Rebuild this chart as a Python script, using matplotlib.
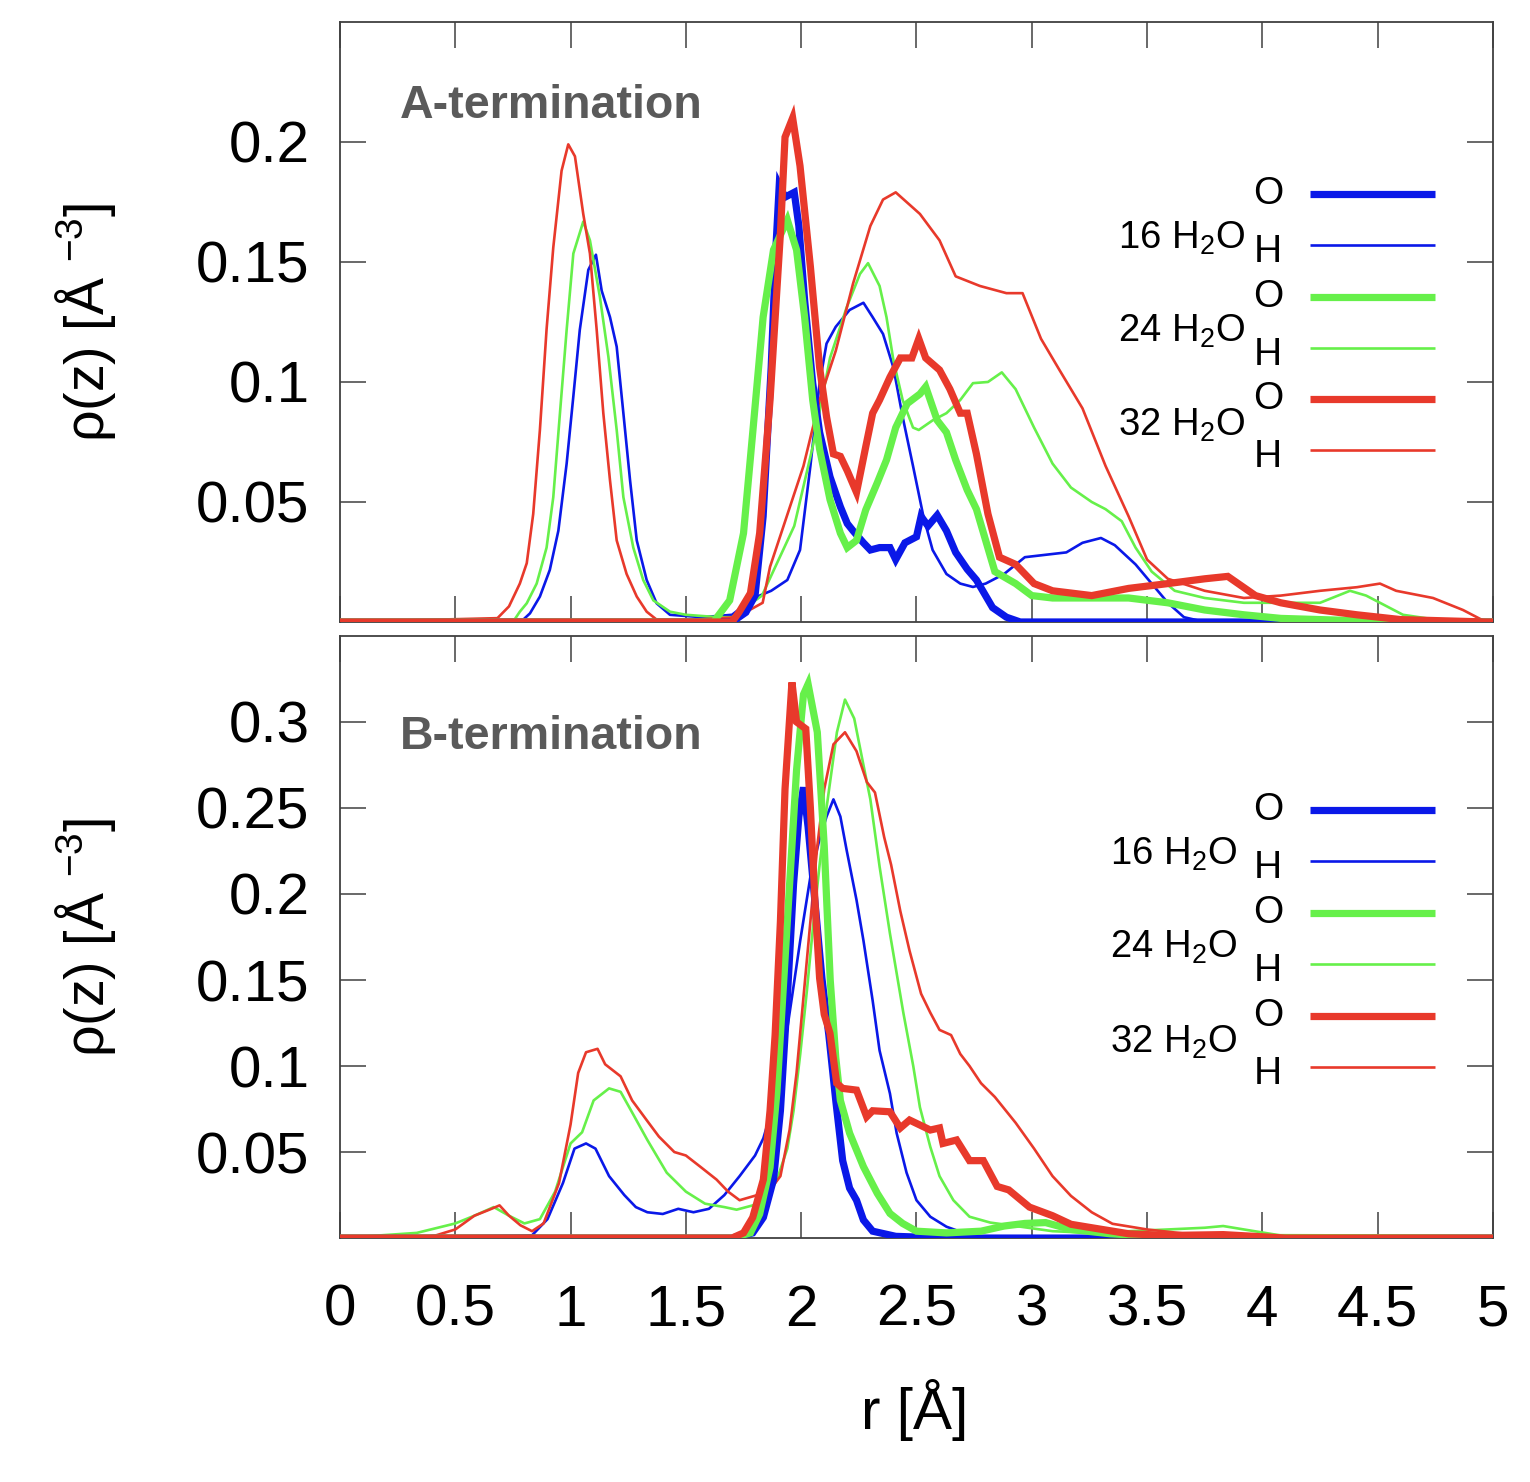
import matplotlib
matplotlib.use("Agg")
import matplotlib.pyplot as plt

plt.rcParams["font.family"] = ["Liberation Sans", "DejaVu Sans"]
plt.rcParams["mathtext.default"] = "regular"

# ---------------- A-termination (top) ----------------
a16_o_r = [0, 1.70, 1.76, 1.80, 1.835, 1.87, 1.89, 1.905, 1.93, 1.97, 1.99, 2.015, 2.05, 2.08, 2.125,
           2.17, 2.20, 2.225, 2.27, 2.30, 2.34, 2.385, 2.41, 2.45, 2.50, 2.52, 2.55, 2.59, 2.63, 2.67,
           2.72, 2.76, 2.83, 2.89, 2.95, 5.0]
a16_o = [0, 0, 0.004, 0.011, 0.044, 0.106, 0.155, 0.182, 0.177, 0.179, 0.165, 0.134, 0.0995, 0.079, 0.0605,
         0.048, 0.041, 0.038, 0.033, 0.030, 0.031, 0.031, 0.026, 0.033, 0.0355, 0.044, 0.040, 0.0445, 0.038, 0.029,
         0.022, 0.0175, 0.006, 0.002, 0, 0]

a16_h_r = [0, 0.795, 0.824, 0.867, 0.91, 0.947, 0.983, 1.012, 1.04, 1.077, 1.11, 1.135, 1.171, 1.2, 1.229,
           1.258, 1.287, 1.33, 1.373, 1.431, 1.57, 1.7, 1.795, 1.87, 1.94, 1.995, 2.04, 2.08, 2.11, 2.15,
           2.21, 2.27, 2.31, 2.355, 2.40, 2.44, 2.485, 2.53, 2.57, 2.63, 2.69, 2.745, 2.80, 2.88, 2.97,
           3.06, 3.15, 3.22, 3.30, 3.36, 3.45, 3.52, 3.59, 3.66, 3.75, 5.0]
a16_h = [0, 0.001, 0.0036, 0.0106, 0.0217, 0.038, 0.066, 0.094, 0.1217, 0.1467, 0.153, 0.138, 0.127, 0.1147, 0.087,
         0.059, 0.034, 0.0175, 0.0078, 0.003, 0.002, 0.003, 0.010, 0.013, 0.0175, 0.030, 0.065, 0.0995, 0.116, 0.123,
         0.130, 0.133, 0.127, 0.120, 0.106, 0.0855, 0.065, 0.044, 0.030, 0.020, 0.016, 0.0146, 0.016, 0.020, 0.027,
         0.028, 0.029, 0.033, 0.035, 0.032, 0.024, 0.016, 0.008, 0.002, 0, 0]

a24_o_r = [0, 1.62, 1.69, 1.75, 1.79, 1.835, 1.88, 1.94, 1.98, 2.015, 2.05, 2.08, 2.125, 2.17, 2.20, 2.24,
           2.28, 2.33, 2.37, 2.41, 2.46, 2.515, 2.54, 2.59, 2.63, 2.67, 2.72, 2.76, 2.80, 2.84, 2.93, 3.0,
           3.09, 3.26, 3.42, 3.59, 3.75, 3.92, 4.08, 4.25, 4.6, 5.0]
a24_o = [0, 0, 0.009, 0.037, 0.079, 0.127, 0.155, 0.1675, 0.155, 0.127, 0.0925, 0.072, 0.051, 0.037, 0.031, 0.034,
         0.0467, 0.058, 0.0675, 0.081, 0.091, 0.095, 0.098, 0.084, 0.079, 0.0675, 0.055, 0.047, 0.034, 0.021, 0.016, 0.011,
         0.010, 0.010, 0.010, 0.008, 0.005, 0.003, 0.0015, 0.001, 0, 0]

a24_h_r = [0, 0.75, 0.78, 0.81, 0.853, 0.896, 0.925, 0.954, 0.983, 1.012, 1.055, 1.084, 1.127, 1.164, 1.2,
           1.229, 1.272, 1.315, 1.359, 1.431, 1.5, 1.64, 1.70, 1.83, 1.97, 2.05, 2.125, 2.197, 2.255, 2.29,
           2.34, 2.37, 2.40, 2.44, 2.485, 2.51, 2.57, 2.63, 2.69, 2.745, 2.81, 2.87, 2.93, 3.01, 3.09, 3.17,
           3.26, 3.32, 3.39, 3.45, 3.52, 3.62, 3.75, 3.92, 4.08, 4.25, 4.38, 4.45, 4.51, 4.61, 4.75, 5.0]
a24_h = [0, 0, 0.0043, 0.0078, 0.016, 0.031, 0.052, 0.087, 0.1217, 0.1535, 0.1668, 0.159, 0.1355, 0.1105, 0.08,
         0.052, 0.031, 0.0175, 0.009, 0.0043, 0.003, 0.002, 0.002, 0.011, 0.040, 0.073, 0.110, 0.131, 0.145, 0.1495,
         0.14, 0.127, 0.109, 0.0925, 0.081, 0.080, 0.084, 0.087, 0.0925, 0.0995, 0.100, 0.104, 0.097, 0.081, 0.066, 0.056,
         0.050, 0.047, 0.042, 0.031, 0.021, 0.013, 0.010, 0.008, 0.008, 0.008, 0.013, 0.011, 0.008, 0.003, 0.001, 0]

a32_o_r = [0, 1.70, 1.73, 1.78, 1.82, 1.865, 1.91, 1.93, 1.963, 1.995, 2.04, 2.08, 2.11, 2.14, 2.17, 2.20,
           2.24, 2.28, 2.31, 2.34, 2.385, 2.43, 2.48, 2.51, 2.54, 2.60, 2.645, 2.69, 2.72, 2.76, 2.81, 2.86,
           2.93, 3.01, 3.09, 3.26, 3.42, 3.59, 3.75, 3.85, 3.97, 4.08, 4.25, 4.41, 4.6, 4.97, 5.0]
a32_o = [0, 0, 0.004, 0.012, 0.037, 0.0925, 0.162, 0.202, 0.21, 0.19, 0.148, 0.106, 0.0855, 0.07, 0.069, 0.063,
         0.054, 0.073, 0.087, 0.0925, 0.102, 0.11, 0.11, 0.118, 0.11, 0.105, 0.097, 0.087, 0.087, 0.070, 0.045, 0.027,
         0.024, 0.016, 0.013, 0.011, 0.014, 0.016, 0.018, 0.019, 0.011, 0.008, 0.005, 0.003, 0.001, 0, 0]

a32_h_r = [0, 0.683, 0.733, 0.78, 0.81, 0.838, 0.867, 0.896, 0.925, 0.961, 0.99, 1.019, 1.055, 1.084, 1.113,
           1.142, 1.171, 1.2, 1.243, 1.287, 1.33, 1.373, 1.55, 1.72, 1.833, 1.865, 2.01, 2.08, 2.15, 2.225,
           2.30, 2.355, 2.41, 2.515, 2.60, 2.67, 2.775, 2.89, 2.96, 3.04, 3.12, 3.22, 3.32, 3.42, 3.50, 3.59,
           3.75, 3.92, 4.08, 4.25, 4.41, 4.51, 4.58, 4.74, 4.87, 4.97, 5.0]
a32_h = [0, 0.0016, 0.0065, 0.016, 0.0245, 0.045, 0.08, 0.122, 0.156, 0.188, 0.199, 0.194, 0.17, 0.1535, 0.122,
         0.087, 0.059, 0.034, 0.02, 0.0106, 0.0043, 0.001, 0.001, 0.002, 0.008, 0.023, 0.065, 0.0925, 0.113, 0.141,
         0.165, 0.176, 0.179, 0.17, 0.159, 0.144, 0.14, 0.137, 0.137, 0.118, 0.105, 0.089, 0.065, 0.044, 0.026, 0.018,
         0.013, 0.010, 0.011, 0.013, 0.0145, 0.016, 0.013, 0.010, 0.005, 0, 0]

# ---------------- B-termination (bottom) ----------------
b16_o_r = [0, 1.70, 1.79, 1.836, 1.88, 1.91, 1.94, 1.967, 1.99, 2.01, 2.03, 2.06, 2.09, 2.12, 2.15, 2.18,
           2.21, 2.24, 2.27, 2.31, 2.41, 2.52, 2.65, 2.8, 5.0]
b16_o = [0, 0, 0.003, 0.012, 0.034, 0.074, 0.14, 0.206, 0.245, 0.262, 0.239, 0.195, 0.151, 0.118, 0.08, 0.045,
         0.029, 0.022, 0.0105, 0.004, 0.001, 0.0005, 0, 0, 0]

b16_h_r = [0, 0.833, 0.9, 0.967, 1.017, 1.067, 1.108, 1.167, 1.233, 1.283, 1.333, 1.4, 1.467, 1.533, 1.6,
           1.667, 1.733, 1.8, 1.836, 1.88, 1.92, 1.96, 1.996, 2.04, 2.08, 2.11, 2.14, 2.17, 2.197, 2.24,
           2.27, 2.31, 2.34, 2.385, 2.414, 2.457, 2.5, 2.56, 2.63, 2.69, 2.78, 2.9, 5.0]
b16_h = [0, 0.0016, 0.011, 0.032, 0.052, 0.055, 0.052, 0.036, 0.025, 0.018, 0.015, 0.014, 0.017, 0.015, 0.017,
         0.025, 0.036, 0.048, 0.058, 0.078, 0.104, 0.14, 0.173, 0.21, 0.232, 0.245, 0.255, 0.245, 0.2256, 0.1965,
         0.173, 0.138, 0.109, 0.084, 0.061, 0.038, 0.022, 0.0124, 0.0066, 0.0037, 0.001, 0, 0]

b24_o_r = [0, 1.70, 1.78, 1.82, 1.865, 1.895, 1.92, 1.95, 1.98, 2.01, 2.03, 2.07, 2.10, 2.126, 2.15, 2.17,
           2.21, 2.27, 2.33, 2.385, 2.44, 2.50, 2.63, 2.78, 2.88, 2.97, 3.06, 3.17, 3.34, 3.6, 5.0]
b24_o = [0, 0, 0.003, 0.014, 0.041, 0.085, 0.14, 0.206, 0.272, 0.316, 0.322, 0.294, 0.228, 0.15, 0.105, 0.08,
         0.061, 0.0415, 0.026, 0.0143, 0.0085, 0.004, 0.003, 0.004, 0.007, 0.0085, 0.009, 0.005, 0.0025, 0.0005, 0]

b24_h_r = [0, 0.333, 0.5, 0.583, 0.667, 0.733, 0.8, 0.867, 0.933, 1.0, 1.05, 1.1, 1.167, 1.217, 1.267, 1.333,
           1.417, 1.5, 1.583, 1.667, 1.72, 1.79, 1.85, 1.895, 1.94, 1.967, 1.996, 2.025, 2.05, 2.08, 2.11,
           2.155, 2.19, 2.23, 2.27, 2.30, 2.34, 2.385, 2.414, 2.443, 2.486, 2.515, 2.56, 2.60, 2.66, 2.73,
           2.82, 2.93, 3.09, 3.26, 3.42, 3.59, 3.75, 3.83, 3.92, 4.08, 4.25, 5.0]
b24_h = [0, 0.003, 0.0085, 0.013, 0.018, 0.013, 0.0085, 0.011, 0.027, 0.055, 0.0615, 0.08, 0.087, 0.085, 0.073, 0.057,
         0.038, 0.027, 0.020, 0.018, 0.0165, 0.019, 0.023, 0.034, 0.052, 0.074, 0.107, 0.144, 0.179, 0.217, 0.25,
         0.294, 0.313, 0.302, 0.275, 0.255, 0.216, 0.177, 0.154, 0.131, 0.10, 0.076, 0.053, 0.036, 0.022, 0.0124,
         0.009, 0.007, 0.004, 0.003, 0.004, 0.005, 0.006, 0.007, 0.005, 0.0015, 0, 0]

b32_o_r = [0, 1.70, 1.75, 1.79, 1.836, 1.865, 1.887, 1.91, 1.93, 1.96, 1.98, 2.02, 2.04, 2.06, 2.08, 2.10,
           2.125, 2.154, 2.18, 2.24, 2.284, 2.31, 2.385, 2.43, 2.47, 2.56, 2.60, 2.615, 2.674, 2.73, 2.79,
           2.85, 2.90, 2.99, 3.09, 3.17, 3.26, 3.42, 3.59, 3.83, 4.1, 5.0]
b32_o = [0, 0, 0.003, 0.012, 0.034, 0.074, 0.118, 0.184, 0.261, 0.323, 0.30, 0.296, 0.25, 0.195, 0.151, 0.13,
         0.119, 0.09, 0.087, 0.086, 0.0705, 0.074, 0.0734, 0.064, 0.0686, 0.0628, 0.064, 0.055, 0.057, 0.045, 0.045,
         0.030, 0.028, 0.018, 0.013, 0.008, 0.006, 0.0025, 0.0015, 0.002, 0, 0]

b32_h_r = [0, 0.333, 0.417, 0.5, 0.583, 0.65, 0.692, 0.733, 0.783, 0.833, 0.883, 0.95, 1.0, 1.033, 1.067,
           1.117, 1.15, 1.217, 1.267, 1.333, 1.383, 1.45, 1.5, 1.567, 1.633, 1.683, 1.733, 1.81, 1.865, 1.91,
           1.95, 1.98, 2.01, 2.04, 2.07, 2.10, 2.14, 2.19, 2.24, 2.285, 2.32, 2.36, 2.39, 2.43, 2.47, 2.52,
           2.56, 2.60, 2.65, 2.69, 2.73, 2.78, 2.84, 2.93, 3.01, 3.09, 3.17, 3.26, 3.35, 3.5, 3.67, 3.9, 5.0]
b32_h = [0, 0, 0.0016, 0.005, 0.013, 0.0166, 0.019, 0.013, 0.0074, 0.004, 0.0085, 0.032, 0.066, 0.096, 0.108,
         0.11, 0.101, 0.094, 0.08, 0.068, 0.059, 0.05, 0.048, 0.041, 0.034, 0.027, 0.022, 0.025, 0.028, 0.036,
         0.063, 0.096, 0.14, 0.184, 0.228, 0.261, 0.287, 0.294, 0.283, 0.265, 0.259, 0.233, 0.217, 0.19, 0.167, 0.142,
         0.131, 0.121, 0.118, 0.107, 0.10, 0.09, 0.082, 0.067, 0.052, 0.036, 0.0245, 0.015, 0.0083, 0.005, 0.0025, 0, 0]

x_ticks = [0, 0.5, 1, 1.5, 2, 2.5, 3, 3.5, 4, 4.5, 5]
x_tick_labels = ["0", "0.5", "1", "1.5", "2", "2.5", "3", "3.5", "4", "4.5", "5"]
a_y_ticks = [0.05, 0.1, 0.15, 0.2]
a_y_labels = ["0.05", "0.1", "0.15", "0.2"]
b_y_ticks = [0.05, 0.1, 0.15, 0.2, 0.25, 0.3]
b_y_labels = ["0.05", "0.1", "0.15", "0.2", "0.25", "0.3"]
groups = ["16 H$_2$O", "24 H$_2$O", "32 H$_2$O"]

BLUE = "#0a18e8"
GREEN = "#66f04a"
RED = "#e8392b"
colors = [BLUE, GREEN, RED]
EDGE = "#404040"

fig = plt.figure(figsize=(15.3, 14.82), dpi=100)
ax_a = fig.add_axes([0.2222, 0.5803, 0.7536, 0.4049])
ax_b = fig.add_axes([0.2222, 0.1646, 0.7536, 0.4063])

panel_a = [(a16_o_r, a16_o, a16_h_r, a16_h), (a24_o_r, a24_o, a24_h_r, a24_h), (a32_o_r, a32_o, a32_h_r, a32_h)]
panel_b = [(b16_o_r, b16_o, b16_h_r, b16_h), (b24_o_r, b24_o, b24_h_r, b24_h), (b32_o_r, b32_o, b32_h_r, b32_h)]


def draw_panel(ax, data, ylim, yticks, ylabels, title, title_y, rows_y, group_y, group_x):
    for (o_r, o_v, h_r, h_v), c in zip(data, colors):
        ax.plot(h_r, h_v, color=c, lw=1.9, zorder=2)
    for (o_r, o_v, h_r, h_v), c in zip(data, colors):
        ax.plot(o_r, o_v, color=c, lw=5.2, zorder=3, solid_joinstyle="miter")

    ax.set_xlim(0, 5)
    ax.set_ylim(*ylim)
    ax.set_xticks(x_ticks)
    ax.set_yticks(yticks)
    ax.set_yticklabels(ylabels)
    ax.tick_params(direction="in", length=19, width=1.1, color=EDGE, top=True, right=True,
                   labelsize=42, pad=22)
    for s in ax.spines.values():
        s.set_color(EDGE)
        s.set_linewidth(1.3)

    ax.text(0.052, title_y, title, transform=ax.transAxes, fontsize=33.5, fontweight="bold",
            color="#5a5a5a", ha="left", va="center")

    # legend: O / H labels with sample lines, grouped by water count
    for i, c in enumerate(colors):
        for j, (lab, lw, dy) in enumerate([("O", 5.2, 0.0), ("H", 1.9, -0.011)]):
            y = rows_y[2 * i + j]
            ax.text(0.805, y + dy, lab, transform=ax.transAxes, fontsize=28, ha="center", va="center")
            ax.plot([0.841, 0.950], [y, y], transform=ax.transAxes, color=c, lw=lw,
                    solid_capstyle="butt", zorder=4)
        ax.text(group_x, group_y[i], groups[i], transform=ax.transAxes, fontsize=27.5,
                ha="right", va="center")


draw_panel(ax_a, panel_a, (0, 0.25), a_y_ticks, a_y_labels, "A-termination", 0.86,
           [0.7133, 0.6283, 0.5417, 0.4567, 0.3717, 0.2867], [0.64, 0.485, 0.327], 0.785)
draw_panel(ax_b, panel_b, (0, 0.35), b_y_ticks, b_y_labels, "B-termination", 0.832,
           [0.711, 0.626, 0.54, 0.455, 0.369, 0.284], [0.637, 0.483, 0.325], 0.778)

ax_a.set_xticklabels([])
ax_b.set_xticklabels(x_tick_labels)
ax_b.tick_params(axis="x", pad=33)

fig.text(0.056, 1 - 322 / 1482, "ρ(z) [Å $^{-3}$]", rotation=90, ha="center", va="center", fontsize=40)
fig.text(0.056, 1 - 937 / 1482, "ρ(z) [Å $^{-3}$]", rotation=90, ha="center", va="center", fontsize=40)
fig.text(915 / 1530, 1 - 1410 / 1482, "r [Å]", ha="center", va="center", fontsize=42)

fig.savefig("out.png", dpi=100)
